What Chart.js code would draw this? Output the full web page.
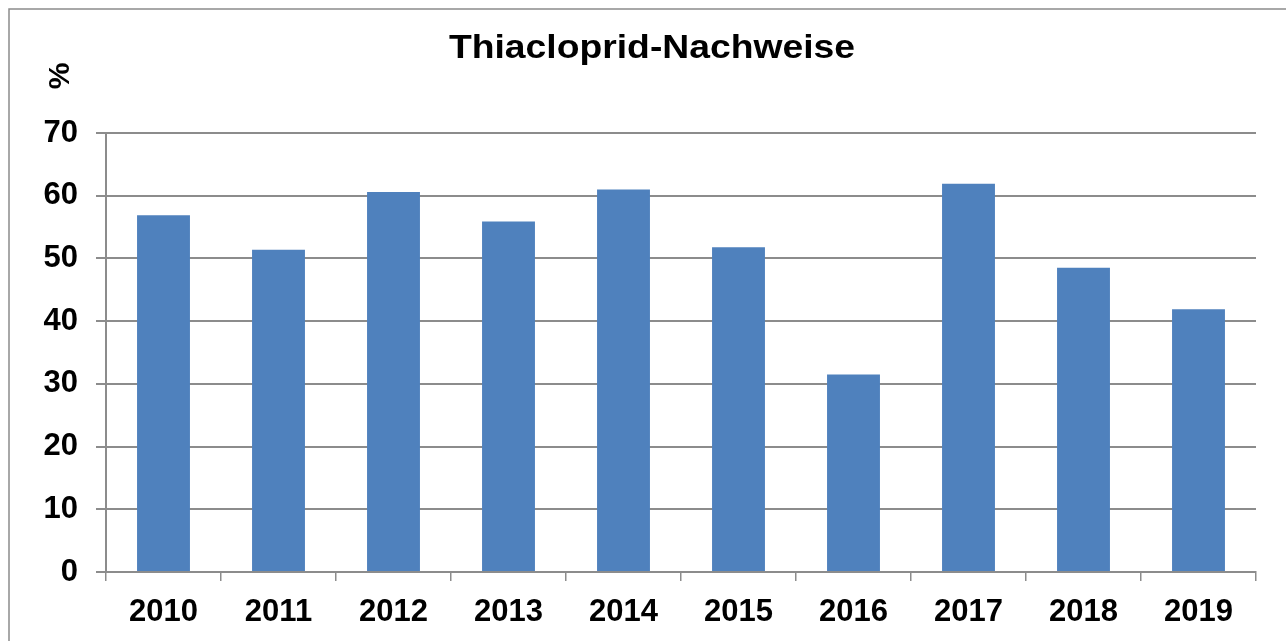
<!DOCTYPE html>
<html>
<head>
<meta charset="utf-8">
<script src="https://cdn.jsdelivr.net/npm/chart.js@4/dist/chart.umd.min.js"></script>
<style>
  html, body { margin: 0; padding: 0; background: #fff; overflow: hidden; }
  #wrap { position: relative; width: 1286px; height: 641px; }
</style>
</head>
<body>
<div id="wrap"><canvas id="chart"></canvas></div>
<script>
// Thiacloprid detections per year (%)
const years = ["2010", "2011", "2012", "2013", "2014", "2015", "2016", "2017", "2018", "2019"];
const detections = [56.9, 51.4, 60.6, 55.9, 61.0, 51.8, 31.5, 61.9, 48.5, 41.9];
const yTicks = [0, 10, 20, 30, 40, 50, 60, 70];

const titleText = "Thiacloprid-Nachweise";
const unitText = "%";

const FONT = "'Liberation Sans', Arial, sans-serif";
const GRID = "#8c8c8c";

// outer frame, title and unit label like the Excel original
const decorations = {
  id: "decorations",
  beforeDraw(chart) {
    const ctx = chart.ctx;
    ctx.save();
    ctx.fillStyle = "#fff";
    ctx.fillRect(0, 0, chart.width, chart.height);
    ctx.strokeStyle = "#8c8c8c";
    ctx.lineWidth = 1.5;
    ctx.beginPath();
    ctx.moveTo(9, chart.height + 5);
    ctx.lineTo(9, 9);
    ctx.lineTo(chart.width + 5, 9);
    ctx.stroke();
    ctx.restore();
  },
  afterDraw(chart) {
    const ctx = chart.ctx;
    ctx.save();
    ctx.fillStyle = "#000";
    ctx.font = "bold 33px " + FONT;
    ctx.textAlign = "center";
    ctx.textBaseline = "alphabetic";
    // title is a bit stretched horizontally in the source
    ctx.translate(652, 58);
    ctx.scale(1.13, 1);
    ctx.fillText(titleText, 0, 0);
    ctx.restore();

    ctx.save();
    ctx.fillStyle = "#000";
    ctx.font = "bold 30px " + FONT;
    ctx.textAlign = "center";
    ctx.textBaseline = "middle";
    ctx.translate(61, 76);
    ctx.rotate(-Math.PI / 2);
    ctx.fillText(unitText, 0, 0);
    ctx.restore();
  }
};

new Chart(document.getElementById("chart"), {
  type: "bar",
  data: {
    labels: years,
    datasets: [{
      data: detections,
      backgroundColor: "#4f81bd",
      borderWidth: 0,
      barPercentage: 0.46,
      categoryPercentage: 1
    }]
  },
  options: {
    responsive: true,
    maintainAspectRatio: false,
    animation: false,
    layout: { padding: { top: 133, right: 30, left: 0, bottom: 0 } },
    plugins: {
      legend: { display: false },
      title: { display: false },
      tooltip: { enabled: false }
    },
    scales: {
      x: {
        afterFit(scale) { scale.height = 69; },
        grid: {
          offset: true,
          drawOnChartArea: false,
          color: GRID,
          lineWidth: 1.5,
          tickLength: 9
        },
        border: { color: GRID, width: 2 },
        ticks: {
          color: "#000",
          padding: 13,
          maxRotation: 0,
          font: { family: FONT, size: 31, weight: "bold" }
        }
      },
      y: {
        min: 0,
        max: 70,
        afterFit(scale) { scale.width = 106; },
        afterBuildTicks(scale) { scale.ticks = yTicks.map(v => ({ value: v })); },
        grid: {
          color: GRID,
          lineWidth: 2,
          tickLength: 10
        },
        border: { color: GRID, width: 2 },
        ticks: {
          color: "#000",
          padding: 18,
          font: { family: FONT, size: 31, weight: "bold" }
        }
      }
    }
  },
  plugins: [decorations]
});
</script>
</body>
</html>
